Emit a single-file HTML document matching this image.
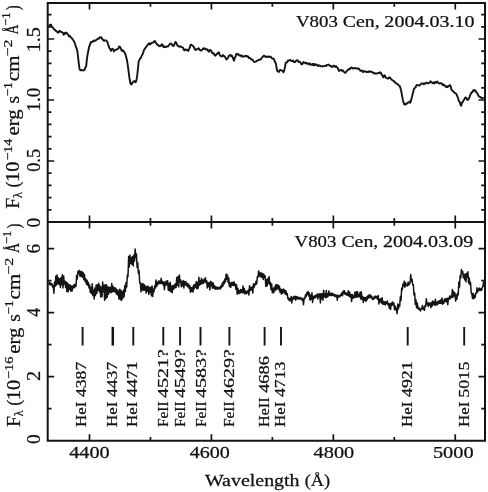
<!DOCTYPE html>
<html><head><meta charset="utf-8"><style>
html,body{margin:0;padding:0;background:#fff;width:488px;height:492px;overflow:hidden;font-family:"Liberation Serif",serif;}
svg{display:block;filter:grayscale(1) blur(0.3px);}
</style></head><body><svg width="488" height="492" viewBox="0 0 488 492"><path d="M47.7,3.0H485.0V440.7H47.7Z M47.7,221.9H485.0" fill="none" stroke="#141414" stroke-width="2.0" stroke-linejoin="miter"/><path d="M89.50,3.0v6.5M89.50,215.4v13.0M89.50,440.7v-6.5M150.46,3.0v3.8M150.46,218.1v7.6M150.46,440.7v-3.8M211.42,3.0v6.5M211.42,215.4v13.0M211.42,440.7v-6.5M272.38,3.0v3.8M272.38,218.1v7.6M272.38,440.7v-3.8M333.34,3.0v6.5M333.34,215.4v13.0M333.34,440.7v-6.5M394.30,3.0v3.8M394.30,218.1v7.6M394.30,440.7v-3.8M455.26,3.0v6.5M455.26,215.4v13.0M455.26,440.7v-6.5M47.7,209.80h3.8M485.0,209.80h-3.8M47.7,197.60h3.8M485.0,197.60h-3.8M47.7,185.40h3.8M485.0,185.40h-3.8M47.7,173.20h3.8M485.0,173.20h-3.8M47.7,161.00h6.5M485.0,161.00h-6.5M47.7,148.80h3.8M485.0,148.80h-3.8M47.7,136.60h3.8M485.0,136.60h-3.8M47.7,124.40h3.8M485.0,124.40h-3.8M47.7,112.20h3.8M485.0,112.20h-3.8M47.7,100.00h6.5M485.0,100.00h-6.5M47.7,87.80h3.8M485.0,87.80h-3.8M47.7,75.60h3.8M485.0,75.60h-3.8M47.7,63.40h3.8M485.0,63.40h-3.8M47.7,51.20h3.8M485.0,51.20h-3.8M47.7,39.00h6.5M485.0,39.00h-6.5M47.7,26.80h3.8M485.0,26.80h-3.8M47.7,14.60h3.8M485.0,14.60h-3.8M47.7,408.70h3.8M485.0,408.70h-3.8M47.7,376.70h6.5M485.0,376.70h-6.5M47.7,344.70h3.8M485.0,344.70h-3.8M47.7,312.70h6.5M485.0,312.70h-6.5M47.7,280.70h3.8M485.0,280.70h-3.8M47.7,248.70h6.5M485.0,248.70h-6.5" fill="none" stroke="#141414" stroke-width="1.7"/><polyline points="48.70,25.42 49.45,24.99 50.20,25.62 50.95,24.53 51.70,26.36 52.45,27.26 53.20,27.89 53.95,29.36 54.70,29.36 55.45,30.74 56.20,30.91 56.95,31.70 57.70,32.48 58.45,32.62 59.20,31.00 59.95,30.96 60.70,31.60 61.45,32.12 62.20,32.29 62.95,32.95 63.70,34.83 64.45,33.04 65.20,33.84 65.95,32.51 66.70,33.00 67.45,33.69 68.20,34.71 68.95,36.22 69.70,35.80 70.45,37.03 71.20,37.71 71.95,38.18 72.70,39.71 73.45,40.18 74.20,41.73 74.95,43.67 75.70,46.13 76.45,48.03 77.20,50.36 77.95,55.86 78.70,62.98 79.45,68.71 80.20,70.02 80.95,70.38 81.70,70.07 82.45,70.41 83.20,70.14 83.95,70.51 84.70,69.53 85.45,67.24 86.20,66.14 86.95,58.58 87.70,53.91 88.45,50.22 89.20,46.49 89.95,44.99 90.70,42.23 91.45,42.41 92.20,41.92 92.95,41.01 93.70,41.34 94.45,40.28 95.20,40.74 95.95,40.32 96.70,39.66 97.45,38.82 98.20,38.84 98.95,38.51 99.70,37.26 100.45,37.66 101.20,37.20 101.95,38.72 102.70,39.25 103.45,40.45 104.20,40.83 104.95,40.12 105.70,40.35 106.45,40.97 107.20,41.49 107.95,43.97 108.70,46.18 109.45,48.24 110.20,49.19 110.95,50.83 111.70,49.20 112.45,48.78 113.20,49.41 113.95,51.47 114.70,50.15 115.45,50.03 116.20,49.47 116.95,49.54 117.70,49.06 118.45,48.29 119.20,46.43 119.95,46.82 120.70,48.14 121.45,50.24 122.20,50.97 122.95,50.29 123.70,51.12 124.45,52.50 125.20,53.79 125.95,56.13 126.70,58.97 127.45,63.03 128.20,68.32 128.95,74.30 129.70,79.54 130.45,83.53 131.20,84.52 131.95,83.76 132.70,82.31 133.45,81.40 134.20,81.74 134.95,80.98 135.70,82.28 136.45,80.18 137.20,75.40 137.95,68.68 138.70,61.13 139.45,59.93 140.20,58.25 140.95,57.90 141.70,55.79 142.45,54.61 143.20,52.65 143.95,49.90 144.70,49.04 145.45,47.83 146.20,47.00 146.95,46.01 147.70,44.71 148.45,43.97 149.20,43.24 149.95,44.41 150.70,43.81 151.45,42.85 152.20,42.77 152.95,42.67 153.70,42.16 154.45,40.99 155.20,41.36 155.95,43.14 156.70,43.84 157.45,44.80 158.20,45.01 158.95,45.87 159.70,46.30 160.45,45.51 161.20,45.75 161.95,44.31 162.70,44.84 163.45,47.07 164.20,47.15 164.95,46.53 165.70,47.17 166.45,46.34 167.20,46.58 167.95,46.46 168.70,45.43 169.45,44.58 170.20,43.61 170.95,43.51 171.70,43.87 172.45,45.59 173.20,45.95 173.95,45.56 174.70,43.49 175.45,41.97 176.20,42.72 176.95,44.53 177.70,45.86 178.45,46.15 179.20,46.53 179.95,46.76 180.70,46.30 181.45,47.13 182.20,47.23 182.95,47.61 183.70,49.59 184.45,50.52 185.20,49.36 185.95,49.43 186.70,50.21 187.45,49.76 188.20,50.90 188.95,49.33 189.70,47.63 190.45,45.03 191.20,44.63 191.95,45.20 192.70,45.71 193.45,46.46 194.20,48.06 194.95,49.43 195.70,50.09 196.45,49.14 197.20,49.04 197.95,48.90 198.70,48.14 199.45,49.50 200.20,50.33 200.95,50.56 201.70,50.25 202.45,49.38 203.20,48.47 203.95,49.01 204.70,48.26 205.45,49.19 206.20,49.65 206.95,49.17 207.70,49.90 208.45,51.49 209.20,51.64 209.95,49.83 210.70,50.38 211.45,51.13 212.20,53.06 212.95,53.57 213.70,53.13 214.45,54.85 215.20,55.72 215.95,55.09 216.70,53.99 217.45,53.71 218.20,52.43 218.95,52.44 219.70,55.08 220.45,55.68 221.20,56.37 221.95,56.46 222.70,55.09 223.45,55.23 224.20,56.36 224.95,56.71 225.70,58.11 226.45,59.50 227.20,58.65 227.95,57.92 228.70,56.10 229.45,55.58 230.20,54.93 230.95,55.99 231.70,55.36 232.45,57.00 233.20,58.67 233.95,60.65 234.70,58.02 235.45,56.72 236.20,53.96 236.95,53.88 237.70,54.44 238.45,54.22 239.20,55.47 239.95,55.37 240.70,55.20 241.45,56.59 242.20,55.71 242.95,56.32 243.70,56.68 244.45,56.29 245.20,55.80 245.95,55.98 246.70,55.92 247.45,56.83 248.20,56.52 248.95,58.03 249.70,58.05 250.45,58.39 251.20,59.47 251.95,59.34 252.70,59.90 253.45,60.97 254.20,61.96 254.95,61.88 255.70,61.69 256.45,61.06 257.20,60.61 257.95,60.44 258.70,59.85 259.45,59.79 260.20,59.51 260.95,59.39 261.70,57.89 262.45,57.07 263.20,56.54 263.95,55.52 264.70,56.07 265.45,56.93 266.20,57.12 266.95,56.36 267.70,56.59 268.45,57.11 269.20,56.52 269.95,56.79 270.70,56.60 271.45,57.85 272.20,58.33 272.95,58.82 273.70,58.70 274.45,60.72 275.20,62.29 275.95,63.60 276.70,68.89 277.45,71.23 278.20,71.37 278.95,71.90 279.70,70.06 280.45,69.86 281.20,70.42 281.95,70.63 282.70,70.85 283.45,72.35 284.20,70.35 284.95,67.27 285.70,62.91 286.45,62.41 287.20,62.36 287.95,60.53 288.70,60.67 289.45,60.32 290.20,59.83 290.95,60.52 291.70,61.16 292.45,61.12 293.20,60.55 293.95,62.17 294.70,61.90 295.45,61.97 296.20,60.36 296.95,60.40 297.70,60.28 298.45,61.94 299.20,61.61 299.95,61.93 300.70,62.96 301.45,64.32 302.20,64.27 302.95,62.78 303.70,62.01 304.45,62.86 305.20,62.76 305.95,63.43 306.70,62.91 307.45,63.29 308.20,64.30 308.95,63.88 309.70,63.32 310.45,64.70 311.20,64.38 311.95,64.83 312.70,63.86 313.45,65.17 314.20,63.91 314.95,65.18 315.70,64.53 316.45,64.52 317.20,65.15 317.95,66.04 318.70,65.27 319.45,65.34 320.20,66.26 320.95,66.09 321.70,66.17 322.45,66.54 323.20,66.10 323.95,66.04 324.70,65.92 325.45,65.61 326.20,65.98 326.95,64.87 327.70,64.84 328.45,64.53 329.20,65.38 329.95,65.44 330.70,66.39 331.45,66.18 332.20,67.03 332.95,66.44 333.70,65.56 334.45,66.00 335.20,67.02 335.95,65.99 336.70,67.42 337.45,67.48 338.20,69.04 338.95,71.04 339.70,70.33 340.45,70.14 341.20,70.05 341.95,70.70 342.70,70.21 343.45,71.54 344.20,72.00 344.95,72.88 345.70,72.40 346.45,71.64 347.20,70.50 347.95,69.90 348.70,69.08 349.45,69.43 350.20,68.32 350.95,67.85 351.70,67.41 352.45,68.31 353.20,68.47 353.95,68.36 354.70,67.96 355.45,68.11 356.20,68.34 356.95,68.70 357.70,68.32 358.45,68.88 359.20,68.91 359.95,70.46 360.70,70.92 361.45,70.67 362.20,70.55 362.95,71.99 363.70,71.23 364.45,71.60 365.20,71.20 365.95,71.81 366.70,71.96 367.45,72.00 368.20,71.52 368.95,72.01 369.70,71.21 370.45,71.62 371.20,71.47 371.95,72.42 372.70,72.31 373.45,72.74 374.20,73.56 374.95,73.27 375.70,73.65 376.45,73.38 377.20,73.50 377.95,73.10 378.70,72.95 379.45,72.96 380.20,72.32 380.95,72.97 381.70,74.78 382.45,75.16 383.20,77.33 383.95,76.70 384.70,75.24 385.45,77.09 386.20,77.93 386.95,78.25 387.70,78.66 388.45,78.58 389.20,77.29 389.95,77.86 390.70,78.42 391.45,79.54 392.20,80.09 392.95,80.66 393.70,80.81 394.45,81.85 395.20,82.34 395.95,83.32 396.70,83.55 397.45,84.02 398.20,84.75 398.95,85.68 399.70,85.92 400.45,88.21 401.20,90.73 401.95,95.28 402.70,99.15 403.45,102.28 404.20,104.45 404.95,103.63 405.70,104.48 406.45,103.96 407.20,103.03 407.95,102.54 408.70,102.55 409.45,101.61 410.20,102.68 410.95,101.01 411.70,98.04 412.45,94.83 413.20,91.96 413.95,88.81 414.70,88.09 415.45,87.54 416.20,85.83 416.95,84.91 417.70,85.07 418.45,85.39 419.20,85.53 419.95,84.96 420.70,84.63 421.45,83.35 422.20,83.34 422.95,83.51 423.70,84.29 424.45,83.52 425.20,83.76 425.95,82.68 426.70,82.60 427.45,82.99 428.20,83.52 428.95,82.99 429.70,82.39 430.45,81.20 431.20,82.08 431.95,82.59 432.70,83.19 433.45,82.52 434.20,83.40 434.95,81.93 435.70,82.81 436.45,82.71 437.20,81.44 437.95,82.34 438.70,83.11 439.45,83.60 440.20,83.10 440.95,83.13 441.70,83.36 442.45,84.96 443.20,84.33 443.95,85.46 444.70,85.27 445.45,86.25 446.20,87.29 446.95,86.34 447.70,87.00 448.45,85.86 449.20,85.82 449.95,85.07 450.70,86.48 451.45,89.70 452.20,90.49 452.95,91.02 453.70,91.65 454.45,92.79 455.20,93.08 455.95,93.57 456.70,94.77 457.45,96.55 458.20,98.41 458.95,101.18 459.70,101.73 460.45,104.76 461.20,105.73 461.95,102.67 462.70,102.05 463.45,100.38 464.20,99.75 464.95,97.85 465.70,97.47 466.45,98.18 467.20,99.82 467.95,99.83 468.70,98.82 469.45,97.15 470.20,95.12 470.95,93.41 471.70,92.31 472.45,92.30 473.20,90.23 473.95,90.95 474.70,90.10 475.45,90.57 476.20,92.19 476.95,92.90 477.70,94.12 478.45,95.83 479.20,96.50 479.95,97.02 480.70,97.20 481.45,98.13 482.20,98.37 482.95,97.93 483.70,98.38" fill="none" stroke="#141414" stroke-width="1.9" stroke-linejoin="round"/><polyline points="48.70,284.77 49.35,282.42 50.00,284.92 50.65,282.93 51.30,284.71 51.95,283.65 52.60,286.99 53.25,285.48 53.90,293.32 54.55,282.07 55.20,286.25 55.85,276.06 56.50,285.11 57.15,275.01 57.80,283.70 58.45,278.00 59.10,284.35 59.75,278.76 60.40,287.51 61.05,277.50 61.70,284.69 62.35,274.74 63.00,287.91 63.65,276.00 64.30,284.07 64.95,280.90 65.60,287.44 66.25,281.93 66.90,291.67 67.55,282.88 68.20,291.58 68.85,284.48 69.50,289.54 70.15,285.04 70.80,291.16 71.45,286.09 72.10,290.91 72.75,286.05 73.40,288.08 74.05,284.59 74.70,287.51 75.35,284.17 76.00,286.23 76.65,275.34 77.30,278.98 77.95,271.25 78.60,273.21 79.25,270.36 79.90,276.07 80.55,271.59 81.20,276.62 81.85,271.45 82.50,277.25 83.15,272.64 83.80,279.56 84.45,274.39 85.10,281.44 85.75,278.96 86.40,284.28 87.05,280.17 87.70,285.16 88.35,282.46 89.00,287.98 89.65,285.02 90.30,292.39 90.95,287.42 91.60,293.64 92.25,283.67 92.90,295.60 93.55,289.99 94.20,298.89 94.85,288.03 95.50,295.42 96.15,285.00 96.80,293.35 97.45,284.66 98.10,290.33 98.75,283.24 99.40,291.87 100.05,285.91 100.70,296.89 101.35,287.14 102.00,296.64 102.65,282.06 103.30,291.79 103.95,285.33 104.60,300.22 105.25,284.68 105.90,298.77 106.55,284.77 107.20,297.16 107.85,286.92 108.50,294.35 109.15,286.91 109.80,292.11 110.45,287.41 111.10,292.82 111.75,283.50 112.40,291.81 113.05,286.31 113.70,291.47 114.35,287.79 115.00,291.99 115.65,288.03 116.30,294.02 116.95,289.43 117.60,295.03 118.25,290.94 118.90,298.86 119.55,289.16 120.20,299.48 120.85,289.95 121.50,300.48 122.15,291.79 122.80,298.53 123.45,290.34 124.10,296.66 124.75,285.72 125.40,291.40 126.05,282.39 126.70,286.92 127.35,274.89 128.00,276.53 128.65,256.57 129.30,266.93 129.95,255.01 130.60,263.46 131.25,257.53 131.90,264.15 132.55,256.59 133.20,266.01 133.85,255.10 134.50,261.11 135.15,249.12 135.80,257.50 136.45,253.97 137.10,267.55 137.75,262.78 138.40,273.53 139.05,270.53 139.70,282.93 140.35,282.82 141.00,291.83 141.65,283.79 142.30,290.10 142.95,283.62 143.60,290.27 144.25,284.68 144.90,290.18 145.55,286.21 146.20,293.09 146.85,286.56 147.50,291.29 148.15,286.20 148.80,294.45 149.45,287.47 150.10,292.38 150.75,287.33 151.40,295.79 152.05,285.91 152.70,296.55 153.35,289.15 154.00,291.81 154.65,286.06 155.30,288.27 155.95,280.02 156.60,286.56 157.25,282.14 157.90,284.43 158.55,281.01 159.20,283.46 159.85,281.08 160.50,283.42 161.15,278.33 161.80,283.49 162.45,281.41 163.10,284.83 163.75,282.06 164.40,289.60 165.05,282.10 165.70,285.39 166.35,280.91 167.00,284.73 167.65,280.81 168.30,290.21 168.95,283.55 169.60,290.81 170.25,282.33 170.90,291.75 171.55,285.99 172.20,292.57 172.85,285.69 173.50,289.27 174.15,285.11 174.80,287.87 175.45,283.86 176.10,287.53 176.75,277.54 177.40,285.37 178.05,276.51 178.70,286.85 179.35,275.10 180.00,281.96 180.65,280.03 181.30,286.80 181.95,281.47 182.60,285.92 183.25,280.55 183.90,287.95 184.55,281.41 185.20,284.70 185.85,281.57 186.50,285.65 187.15,283.50 187.80,286.74 188.45,283.89 189.10,288.22 189.75,285.58 190.40,292.08 191.05,287.40 191.70,291.54 192.35,287.30 193.00,291.97 193.65,284.96 194.30,288.70 194.95,284.47 195.60,287.17 196.25,281.53 196.90,288.85 197.55,282.50 198.20,288.17 198.85,277.17 199.50,285.30 200.15,280.81 200.80,284.23 201.45,278.34 202.10,283.71 202.75,279.99 203.40,283.34 204.05,279.27 204.70,281.89 205.35,277.72 206.00,282.71 206.65,280.66 207.30,287.89 207.95,282.44 208.60,286.42 209.25,282.73 209.90,289.84 210.55,281.21 211.20,285.81 211.85,282.24 212.50,288.19 213.15,282.96 213.80,288.09 214.45,285.51 215.10,289.23 215.75,286.83 216.40,289.05 217.05,287.15 217.70,289.24 218.35,287.38 219.00,288.77 219.65,287.36 220.30,289.08 220.95,285.68 221.60,287.51 222.25,283.22 222.90,286.07 223.55,281.14 224.20,283.79 224.85,279.11 225.50,281.82 226.15,274.06 226.80,279.17 227.45,274.91 228.10,282.53 228.75,277.90 229.40,286.53 230.05,283.07 230.70,287.50 231.35,282.48 232.00,285.33 232.65,282.52 233.30,285.61 233.95,281.65 234.60,285.48 235.25,284.00 235.90,289.14 236.55,284.79 237.20,294.29 237.85,288.20 238.50,293.35 239.15,290.67 239.80,293.43 240.45,289.55 241.10,292.18 241.75,289.83 242.40,292.86 243.05,285.95 243.70,292.82 244.35,288.39 245.00,293.88 245.65,291.13 246.30,293.70 246.95,291.17 247.60,292.89 248.25,290.07 248.90,295.03 249.55,285.72 250.20,290.55 250.85,287.58 251.50,290.09 252.15,286.84 252.80,293.07 253.45,283.80 254.10,287.43 254.75,284.08 255.40,284.96 256.05,281.19 256.70,283.95 257.35,276.65 258.00,277.08 258.65,270.94 259.30,275.92 259.95,272.49 260.60,276.87 261.25,273.09 261.90,277.19 262.55,273.41 263.20,279.51 263.85,274.30 264.50,277.83 265.15,275.86 265.80,286.41 266.45,279.86 267.10,285.98 267.75,278.66 268.40,283.23 269.05,276.60 269.70,284.38 270.35,282.52 271.00,289.56 271.65,283.92 272.30,292.75 272.95,288.42 273.60,292.85 274.25,287.23 274.90,290.66 275.55,284.92 276.20,289.76 276.85,284.62 277.50,288.42 278.15,284.97 278.80,289.79 279.45,286.28 280.10,292.37 280.75,289.06 281.40,294.05 282.05,289.64 282.70,293.16 283.35,288.93 284.00,292.17 284.65,290.00 285.30,294.34 285.95,290.74 286.60,294.77 287.25,293.48 287.90,298.73 288.55,297.91 289.20,300.69 289.85,298.75 290.50,300.61 291.15,296.60 291.80,302.95 292.45,297.60 293.10,299.21 293.75,296.51 294.40,298.73 295.05,296.31 295.70,300.24 296.35,296.45 297.00,298.79 297.65,297.14 298.30,299.07 298.95,297.29 299.60,299.03 300.25,297.66 300.90,299.07 301.55,298.16 302.20,300.32 302.85,298.86 303.50,304.71 304.15,297.96 304.80,298.59 305.45,294.96 306.10,296.60 306.75,292.70 307.40,294.54 308.05,291.44 308.70,295.99 309.35,293.06 310.00,300.19 310.65,295.21 311.30,299.23 311.95,292.80 312.60,302.50 313.25,296.13 313.90,298.46 314.55,295.93 315.20,297.75 315.85,295.30 316.50,296.80 317.15,294.03 317.80,298.89 318.45,294.32 319.10,297.06 319.75,293.71 320.40,303.04 321.05,293.71 321.70,298.81 322.35,293.70 323.00,300.28 323.65,290.29 324.30,296.76 324.95,294.20 325.60,297.64 326.25,290.59 326.90,297.41 327.55,293.70 328.20,296.27 328.85,290.95 329.50,295.26 330.15,293.27 330.80,295.53 331.45,293.32 332.10,295.47 332.75,293.38 333.40,295.65 334.05,294.18 334.70,296.18 335.35,294.85 336.00,296.63 336.65,295.25 337.30,300.19 337.95,295.29 338.60,297.08 339.25,295.67 339.90,296.82 340.55,294.41 341.20,295.37 341.85,292.86 342.50,295.67 343.15,290.97 343.80,293.51 344.45,290.82 345.10,294.27 345.75,292.67 346.40,294.92 347.05,293.29 347.70,295.25 348.35,290.72 349.00,296.15 349.65,292.02 350.30,297.24 350.95,294.51 351.60,301.40 352.25,294.42 352.90,298.24 353.55,295.87 354.20,297.66 354.85,292.24 355.50,297.12 356.15,291.83 356.80,297.16 357.45,291.65 358.10,296.79 358.75,294.50 359.40,296.66 360.05,292.19 360.70,298.97 361.35,291.81 362.00,299.56 362.65,296.40 363.30,302.38 363.95,297.54 364.60,300.20 365.25,297.50 365.90,301.50 366.55,297.08 367.20,299.72 367.85,295.83 368.50,298.00 369.15,294.65 369.80,297.43 370.45,295.12 371.10,297.81 371.75,296.21 372.40,299.44 373.05,297.93 373.70,299.22 374.35,296.62 375.00,298.07 375.65,295.99 376.30,297.88 376.95,296.62 377.60,299.26 378.25,295.39 378.90,304.02 379.55,299.23 380.20,301.82 380.85,298.68 381.50,303.11 382.15,297.74 382.80,304.18 383.45,301.45 384.10,304.28 384.75,301.72 385.40,304.95 386.05,301.86 386.70,303.56 387.35,301.09 388.00,304.91 388.65,303.63 389.30,308.52 389.95,303.67 390.60,309.43 391.25,302.95 391.90,305.31 392.55,301.89 393.20,304.91 393.85,302.99 394.50,309.65 395.15,306.04 395.80,309.96 396.45,308.14 397.10,313.59 397.75,304.01 398.40,308.89 399.05,304.69 399.70,306.16 400.35,296.46 401.00,300.44 401.65,288.35 402.30,289.84 402.95,283.92 403.60,285.94 404.25,281.17 404.90,287.14 405.55,282.73 406.20,285.78 406.85,285.22 407.50,285.72 408.15,282.00 408.80,285.08 409.45,283.59 410.10,282.96 410.75,274.52 411.40,281.61 412.05,279.34 412.70,285.03 413.35,284.85 414.00,295.03 414.65,293.03 415.30,304.54 415.95,299.64 416.60,307.85 417.25,302.94 417.90,308.62 418.55,307.52 419.20,309.72 419.85,308.39 420.50,310.91 421.15,308.94 421.80,308.77 422.45,305.46 423.10,309.16 423.75,307.56 424.40,310.34 425.05,305.47 425.70,306.21 426.35,298.71 427.00,304.50 427.65,303.10 428.30,306.49 428.95,302.86 429.60,305.27 430.25,303.15 430.90,307.74 431.55,302.30 432.20,306.11 432.85,300.92 433.50,304.28 434.15,301.73 434.80,305.37 435.45,299.26 436.10,304.89 436.75,302.64 437.40,304.71 438.05,301.25 438.70,303.65 439.35,300.74 440.00,303.32 440.65,300.09 441.30,303.50 441.95,297.90 442.60,304.17 443.25,300.88 443.90,303.16 444.55,298.89 445.20,301.25 445.85,298.74 446.50,301.94 447.15,298.17 447.80,304.68 448.45,298.24 449.10,299.39 449.75,295.95 450.40,298.68 451.05,296.11 451.70,297.52 452.35,289.49 453.00,297.26 453.65,291.49 454.30,296.00 454.95,293.05 455.60,301.08 456.25,295.01 456.90,299.12 457.55,293.19 458.20,294.89 458.85,282.12 459.50,287.11 460.15,275.39 460.80,278.00 461.45,269.55 462.10,273.60 462.75,271.45 463.40,277.73 464.05,274.45 464.70,279.87 465.35,274.07 466.00,281.85 466.65,273.27 467.30,277.33 467.95,271.83 468.60,282.98 469.25,278.03 469.90,284.82 470.55,282.46 471.20,292.84 471.85,293.82 472.50,298.52 473.15,293.20 473.80,298.72 474.45,295.17 475.10,297.36 475.75,293.21 476.40,293.33 477.05,287.82 477.70,291.90 478.35,288.87 479.00,290.49 479.65,288.09 480.30,290.41 480.95,288.83 481.60,290.30 482.25,287.49 482.90,286.49 483.55,282.11 484.20,287.01" fill="none" stroke="#141414" stroke-width="1.5" stroke-linejoin="round"/><path d="M82.60,326.9V345.6M133.30,326.9V345.6M163.30,326.9V345.6M180.10,326.9V345.6M200.50,326.9V345.6M229.40,326.9V345.6M264.60,326.9V345.6M281.00,326.9V345.6M407.70,326.9V345.6M464.20,326.9V345.6" fill="none" stroke="#141414" stroke-width="1.9"/><path d="M112.80,326.9V345.6" fill="none" stroke="#141414" stroke-width="2.5"/><g fill="#111" stroke="#111" stroke-width="0.25" font-family="Liberation Serif, serif"><text transform="translate(86.28,426.60) rotate(-90) scale(1.1289,1)" x="-0.41" font-size="15.0">HeI</text><text transform="translate(86.28,396.70) rotate(-90) scale(1.1746,1)" x="-0.30" font-size="15.0">4387</text><text transform="translate(116.76,426.60) rotate(-90) scale(1.1289,1)" x="-0.41" font-size="15.0">HeI</text><text transform="translate(116.76,396.70) rotate(-90) scale(1.1746,1)" x="-0.30" font-size="15.0">4437</text><text transform="translate(137.48,426.60) rotate(-90) scale(1.1289,1)" x="-0.41" font-size="15.0">HeI</text><text transform="translate(137.48,396.70) rotate(-90) scale(1.1944,1)" x="-0.30" font-size="15.0">4471</text><text transform="translate(167.96,426.70) rotate(-90) scale(1.0276,1)" x="-0.41" font-size="15.0">FeII</text><text transform="translate(167.96,397.70) rotate(-90) scale(1.3347,1)" x="-0.30" font-size="15.0">4521?</text><text transform="translate(185.03,426.70) rotate(-90) scale(1.0276,1)" x="-0.41" font-size="15.0">FeII</text><text transform="translate(185.03,397.70) rotate(-90) scale(1.3347,1)" x="-0.30" font-size="15.0">4549?</text><text transform="translate(205.76,426.70) rotate(-90) scale(1.0276,1)" x="-0.41" font-size="15.0">FeII</text><text transform="translate(205.76,397.70) rotate(-90) scale(1.3347,1)" x="-0.30" font-size="15.0">4583?</text><text transform="translate(233.80,426.70) rotate(-90) scale(1.0276,1)" x="-0.41" font-size="15.0">FeII</text><text transform="translate(233.80,397.70) rotate(-90) scale(1.3347,1)" x="-0.30" font-size="15.0">4629?</text><text transform="translate(268.55,426.50) rotate(-90) scale(1.0734,1)" x="-0.41" font-size="15.0">HeII</text><text transform="translate(268.55,392.50) rotate(-90) scale(1.2308,1)" x="-0.30" font-size="15.0">4686</text><text transform="translate(285.00,426.60) rotate(-90) scale(1.1289,1)" x="-0.41" font-size="15.0">HeI</text><text transform="translate(285.00,396.70) rotate(-90) scale(1.1821,1)" x="-0.30" font-size="15.0">4713</text><text transform="translate(411.80,426.60) rotate(-90) scale(1.1289,1)" x="-0.41" font-size="15.0">HeI</text><text transform="translate(411.80,396.70) rotate(-90) scale(1.1944,1)" x="-0.30" font-size="15.0">4921</text><text transform="translate(469.10,426.60) rotate(-90) scale(1.1289,1)" x="-0.41" font-size="15.0">HeI</text><text transform="translate(469.10,396.70) rotate(-90) scale(1.2054,1)" x="-0.86" font-size="15.0">5015</text><text transform="translate(296.10,27.30) scale(1.1101,1)" x="-0.17" font-size="17.0">V803</text><text transform="translate(343.60,27.30) scale(1.1648,1)" x="-0.68" font-size="17.0">Cen,</text><text transform="translate(385.20,27.30) scale(1.1805,1)" x="-0.72" font-size="17.0">2004.03.10</text><text transform="translate(294.70,246.60) scale(1.1101,1)" x="-0.17" font-size="17.0">V803</text><text transform="translate(342.20,246.60) scale(1.1648,1)" x="-0.68" font-size="17.0">Cen,</text><text transform="translate(383.80,246.60) scale(1.1811,1)" x="-0.72" font-size="17.0">2004.03.09</text><text transform="translate(69.60,458.20) scale(1.1901,1)" x="-0.34" font-size="17.0">4400</text><text transform="translate(190.10,458.20) scale(1.1810,1)" x="-0.34" font-size="17.0">4600</text><text transform="translate(314.00,458.20) scale(1.1931,1)" x="-0.34" font-size="17.0">4800</text><text transform="translate(434.10,458.20) scale(1.1950,1)" x="-0.98" font-size="17.0">5000</text><text transform="translate(204.90,485.50) scale(1.1721,1)" x="-0.00" font-size="17.0">Wavelength</text><text transform="translate(305.40,485.50) scale(1.0794,1)" x="-0.72" font-size="17.0">(Å)</text><text transform="translate(39.80,50.55) rotate(-90) scale(1.1261,1)" x="-1.56" font-size="17.8">1.5</text><text transform="translate(39.80,109.95) rotate(-90) scale(1.0737,1)" x="-1.56" font-size="17.8">1.0</text><text transform="translate(39.80,171.15) rotate(-90) scale(1.0302,1)" x="-0.67" font-size="17.8">0.5</text><text transform="translate(39.80,226.80) rotate(-90) scale(1.0839,1)" x="-0.67" font-size="17.8">0</text><text transform="translate(39.80,252.80) rotate(-90) scale(1.0776,1)" x="-0.76" font-size="17.8">6</text><text transform="translate(39.80,316.30) rotate(-90) scale(0.9907,1)" x="-0.36" font-size="17.8">4</text><text transform="translate(39.80,380.10) rotate(-90) scale(1.1445,1)" x="-0.76" font-size="17.8">2</text><text transform="translate(39.80,443.20) rotate(-90) scale(1.0839,1)" x="-0.67" font-size="17.8">0</text><text transform="translate(18.50,208.10) rotate(-90) scale(1.1179,1)" x="-0.49" font-size="17.8">F</text><text transform="translate(21.80,197.60) rotate(-90) scale(0.9298,1)" x="-0.33" font-size="13.0">λ</text><text transform="translate(18.50,186.70) rotate(-90) scale(1.0036,1)" x="-0.76" font-size="17.8">(</text><text transform="translate(18.50,180.10) rotate(-90) scale(1.1493,1)" x="-1.56" font-size="17.8">10</text><text transform="translate(12.30,159.90) rotate(-90) scale(1.0769,1)" x="-0.65" font-size="13.0">−14</text><text transform="translate(18.50,134.70) rotate(-90) scale(1.1657,1)" x="-0.71" font-size="17.8">erg</text><text transform="translate(18.50,102.70) rotate(-90) scale(1.0966,1)" x="-0.71" font-size="17.8">s</text><text transform="translate(12.20,95.90) rotate(-90) scale(1.0471,1)" x="-0.65" font-size="13.0">−1</text><text transform="translate(18.50,80.50) rotate(-90) scale(1.1908,1)" x="-0.67" font-size="17.8">cm</text><text transform="translate(12.20,55.70) rotate(-90) scale(1.2260,1)" x="-0.65" font-size="13.0">−2</text><text transform="translate(18.20,34.20) rotate(-90) scale(0.7491,1)" x="-0.18" font-size="17.8">Å</text><text transform="translate(10.10,25.20) rotate(-90) scale(0.9666,1)" x="-0.65" font-size="13.0">−1</text><text transform="translate(18.50,9.80) rotate(-90) scale(0.8291,1)" x="-0.58" font-size="17.8">)</text><text transform="translate(19.50,426.40) rotate(-90) scale(1.1179,1)" x="-0.49" font-size="17.8">F</text><text transform="translate(22.80,415.90) rotate(-90) scale(0.9298,1)" x="-0.33" font-size="13.0">λ</text><text transform="translate(19.50,405.00) rotate(-90) scale(1.0036,1)" x="-0.76" font-size="17.8">(</text><text transform="translate(19.50,398.40) rotate(-90) scale(1.1493,1)" x="-1.56" font-size="17.8">10</text><text transform="translate(13.30,378.20) rotate(-90) scale(1.0878,1)" x="-0.65" font-size="13.0">−16</text><text transform="translate(19.50,353.00) rotate(-90) scale(1.1657,1)" x="-0.71" font-size="17.8">erg</text><text transform="translate(19.50,321.00) rotate(-90) scale(1.0966,1)" x="-0.71" font-size="17.8">s</text><text transform="translate(13.20,314.20) rotate(-90) scale(1.0471,1)" x="-0.65" font-size="13.0">−1</text><text transform="translate(19.50,298.80) rotate(-90) scale(1.1908,1)" x="-0.67" font-size="17.8">cm</text><text transform="translate(13.20,274.00) rotate(-90) scale(1.2260,1)" x="-0.65" font-size="13.0">−2</text><text transform="translate(19.20,252.50) rotate(-90) scale(0.7491,1)" x="-0.18" font-size="17.8">Å</text><text transform="translate(11.10,243.50) rotate(-90) scale(0.9666,1)" x="-0.65" font-size="13.0">−1</text><text transform="translate(19.50,228.10) rotate(-90) scale(0.8291,1)" x="-0.58" font-size="17.8">)</text></g></svg></body></html>
